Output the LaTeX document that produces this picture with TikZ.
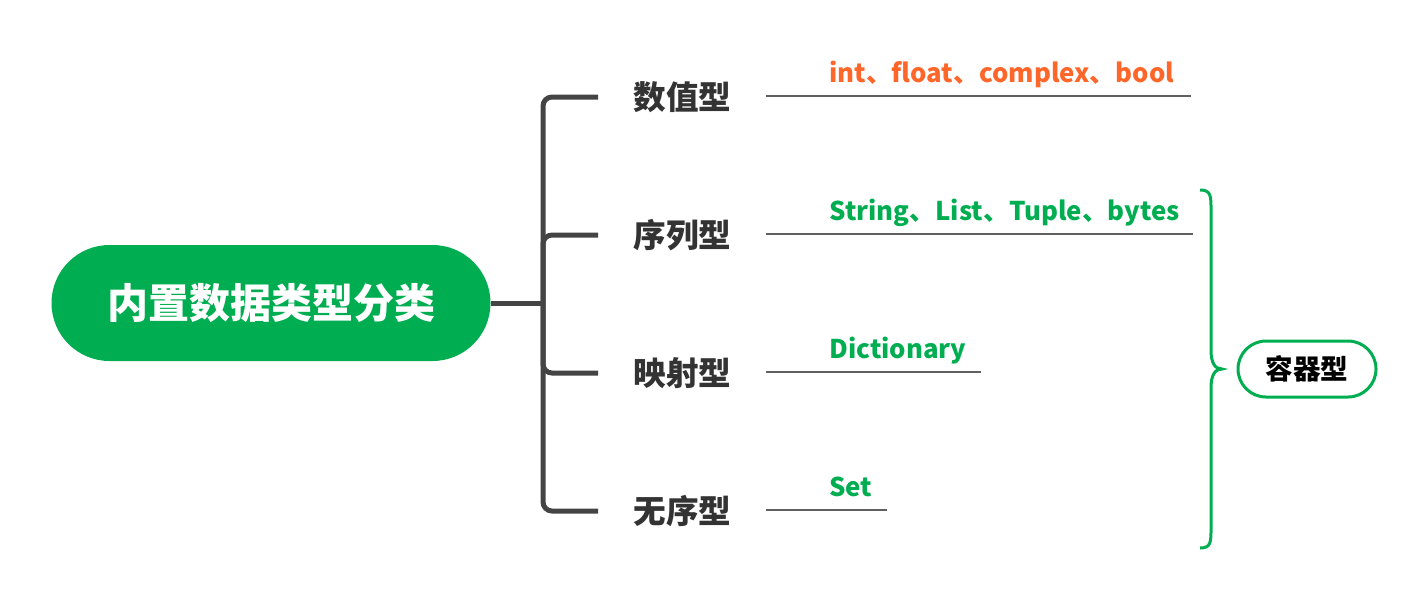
\documentclass[tikz,border=0pt]{standalone}
\usepackage{fontspec}
\setmainfont{Noto Sans CJK SC}
\definecolor{mgreen}{RGB}{0,174,81}
\definecolor{morange}{RGB}{255,102,42}
\definecolor{lgray}{RGB}{68,68,68}
\definecolor{tgray}{RGB}{51,51,51}
\begin{document}
\begin{tikzpicture}[x=0.5pt,y=-0.5pt,
  rootbox/.style={fill=mgreen, text=white, font=\bfseries\fontsize{20.5pt}{24pt}\selectfont,
    minimum width=219.5pt, minimum height=58pt, rounded corners=29pt, inner sep=0},
  catlabel/.style={anchor=west, inner sep=0, text=tgray, font=\bfseries\fontsize{16.3pt}{20pt}\selectfont},
  branch/.style={draw=lgray, line width=2.5pt, rounded corners=4.5pt, shorten >=17.5pt},
  sublabel/.style={anchor=south west, inner xsep=0, inner ysep=0, text depth=6.5pt, align=left,
    font=\bfseries\fontsize{12.9pt}{15pt}\selectfont},
  ul/.style={draw=lgray!85, line width=0.8pt},
  cbox/.style={draw=mgreen, line width=1.5pt, fill=white, text=black, rounded corners=14pt,
    minimum width=69pt, minimum height=28pt, inner sep=0, font=\bfseries\fontsize{13.8pt}{16pt}\selectfont}
]
\useasboundingbox (0,0) rectangle (1406,596);

\node[rootbox] (root) at (271,303) {内置数据类型分类};
\coordinate (j) at (543,303);
\draw[draw=lgray, line width=2.5pt] (root.east) -- (j);

\node[catlabel] (c1) at (633,97) {数值型};
\node[catlabel] (c2) at (633,235) {序列型};
\node[catlabel] (c3) at (633,373) {映射型};
\node[catlabel] (c4) at (633,511) {无序型};

\foreach \c in {c1,c2,c3,c4}
  \draw[branch] (j) |- (\c.west);

\node[sublabel, text=morange, text width=212pt] (s1) at (766,96) {\hspace{31.5pt}int、float、complex、bool};
\node[sublabel, text=mgreen, text width=213pt] (s2) at (766,234) {\hspace{31.5pt}String、List、Tuple、bytes};
\node[sublabel, text=mgreen, text width=107pt] (s3) at (766,372) {\hspace{31.5pt}Dictionary};
\node[sublabel, text=mgreen, text width=60pt] (s4) at (766,510) {\hspace{31.5pt}Set};

\foreach \s in {s1,s2,s3,s4}
  \draw[ul] (\s.south west) -- (\s.south east);

\node[cbox] (cont) at (1307,369) {容器型};

\coordinate (bt) at (1200,190);
\coordinate (bm) at (1222,369);
\coordinate (bb) at (1200,548);
\draw[mgreen, line width=1.5pt] (bt) .. controls (1211,190) and (1211,196) .. (1211,210)
  -- (1211,350) .. controls (1211,363) and (1215,369) .. (bm)
  .. controls (1215,369) and (1211,375) .. (1211,388)
  -- (1211,528) .. controls (1211,542) and (1211,548) .. (bb);
\end{tikzpicture}
\end{document}
